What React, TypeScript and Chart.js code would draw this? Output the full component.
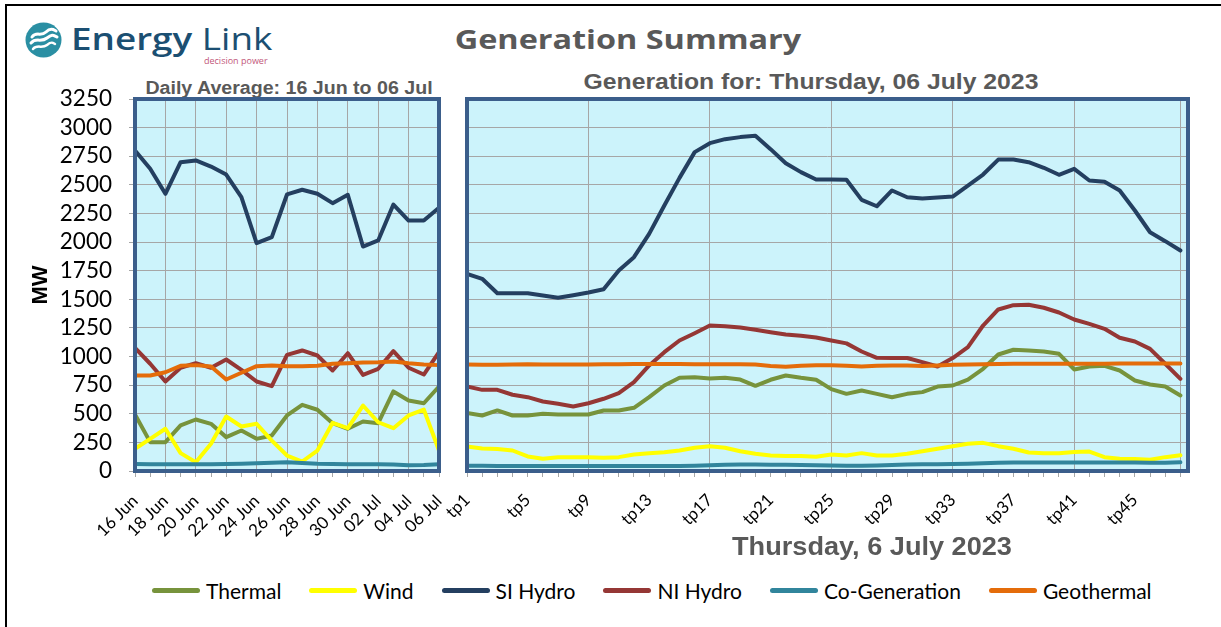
import React, { useEffect, useRef } from 'react';
import { Chart, registerables } from 'chart.js';

Chart.register(...registerables);

// ---------- data ----------
const dailyLabels = [
  '16 Jun', '17 Jun', '18 Jun', '19 Jun', '20 Jun', '21 Jun', '22 Jun', '23 Jun', '24 Jun', '25 Jun',
  '26 Jun', '27 Jun', '28 Jun', '29 Jun', '30 Jun', '01 Jul', '02 Jul', '03 Jul', '04 Jul', '05 Jul', '06 Jul',
];

const tpLabels = [
  'tp1', 'tp2', 'tp3', 'tp4', 'tp5', 'tp6', 'tp7', 'tp8', 'tp9', 'tp10', 'tp11', 'tp12',
  'tp13', 'tp14', 'tp15', 'tp16', 'tp17', 'tp18', 'tp19', 'tp20', 'tp21', 'tp22', 'tp23', 'tp24',
  'tp25', 'tp26', 'tp27', 'tp28', 'tp29', 'tp30', 'tp31', 'tp32', 'tp33', 'tp34', 'tp35', 'tp36',
  'tp37', 'tp38', 'tp39', 'tp40', 'tp41', 'tp42', 'tp43', 'tp44', 'tp45', 'tp46', 'tp47', 'tp48',
];
const tpGridLines = [1, 9, 17, 25, 33, 41, 48];

const seriesNames = ['Thermal', 'Wind', 'SI Hydro', 'NI Hydro', 'Co-Generation', 'Geothermal'];
const seriesColors = ['#77933C', '#FFFF00', '#243F60', '#953735', '#31859C', '#E46C0A'];

const yTickMax = 3250;
const yTickStep = 250;

const thermalDaily = [494, 252, 252, 398, 450, 412, 296, 354, 281, 310, 485, 578, 535, 418, 369, 432, 418, 695, 616, 592, 738];
const windDaily = [194, 281, 369, 156, 77, 238, 476, 389, 412, 266, 135, 83, 179, 421, 374, 572, 426, 374, 485, 537, 179];
const siHydroDaily = [2800, 2640, 2422, 2698, 2713, 2660, 2590, 2392, 1990, 2043, 2416, 2457, 2422, 2340, 2413, 1961, 2014, 2328, 2188, 2188, 2300];
const niHydroDaily = [1076, 937, 782, 902, 942, 902, 974, 884, 782, 741, 1015, 1053, 1009, 878, 1029, 840, 893, 1047, 902, 843, 1038];
const coGenDaily = [62, 58, 60, 60, 58, 60, 62, 64, 68, 72, 76, 70, 64, 62, 60, 60, 58, 56, 50, 52, 58];
const geothermalDaily = [835, 835, 863, 919, 925, 913, 799, 858, 916, 922, 916, 916, 919, 937, 942, 948, 951, 957, 942, 931, 925];

const thermalTp = [508, 485, 529, 485, 485, 500, 494, 494, 494, 529, 529, 552, 645, 747, 814, 820, 808, 814, 799, 744, 797, 834, 814, 797, 715, 674, 703, 674, 645, 674, 689, 738, 747, 799, 893, 1018, 1059, 1053, 1044, 1024, 887, 913, 919, 878, 791, 756, 738, 660];
const windTp = [214, 197, 193, 179, 127, 107, 121, 121, 121, 115, 121, 144, 156, 164, 179, 203, 217, 203, 173, 150, 135, 130, 130, 124, 144, 135, 156, 135, 135, 150, 173, 194, 217, 238, 246, 217, 194, 162, 156, 156, 167, 170, 121, 107, 104, 98, 121, 138];
const siHydroTp = [1723, 1679, 1553, 1553, 1553, 1533, 1513, 1536, 1560, 1588, 1752, 1868, 2072, 2320, 2561, 2786, 2864, 2899, 2917, 2929, 2812, 2689, 2611, 2547, 2547, 2545, 2369, 2313, 2451, 2392, 2381, 2389, 2398, 2494, 2590, 2721, 2721, 2698, 2649, 2588, 2640, 2538, 2527, 2451, 2276, 2086, 2008, 1926];
const niHydroTp = [738, 709, 709, 666, 645, 607, 587, 564, 592, 631, 680, 776, 922, 1038, 1140, 1204, 1271, 1265, 1254, 1234, 1213, 1193, 1181, 1166, 1140, 1115, 1044, 989, 987, 987, 951, 913, 987, 1082, 1271, 1411, 1449, 1452, 1426, 1385, 1324, 1286, 1242, 1164, 1131, 1067, 937, 805];
const coGenTp = [45, 45, 44, 44, 44, 44, 44, 44, 44, 44, 44, 44, 44, 44, 44, 46, 50, 54, 56, 56, 55, 54, 52, 50, 48, 46, 46, 48, 52, 56, 58, 60, 62, 64, 68, 72, 74, 74, 74, 74, 75, 75, 75, 74, 74, 73, 73, 76];
const geothermalTp = [930, 928, 928, 930, 932, 930, 930, 930, 930, 932, 932, 934, 934, 934, 934, 932, 932, 932, 932, 930, 918, 910, 920, 924, 924, 920, 912, 920, 922, 922, 918, 922, 928, 930, 932, 935, 936, 936, 937, 938, 938, 938, 938, 939, 939, 940, 940, 940];

const dailySeries = [thermalDaily, windDaily, siHydroDaily, niHydroDaily, coGenDaily, geothermalDaily];
const tpSeries = [thermalTp, windTp, siHydroTp, niHydroTp, coGenTp, geothermalTp];

// ---------- styles ----------
const GRID = '#A6A6A6';
const PLOT_BG = '#CCF3FB';
const FRAME = '#3B5E8B';
const CLEAR = 'rgba(0,0,0,0)';
const TITLE_GRAY = '#595959';
const TICK_FONT = 'Lato, "Open Sans", sans-serif';

const plotFrame = {
  id: 'plotFrame',
  beforeDraw(chart: any) {
    const { ctx, chartArea } = chart;
    if (!chartArea) return;
    ctx.save();
    ctx.fillStyle = PLOT_BG;
    ctx.fillRect(chartArea.left, chartArea.top, chartArea.right - chartArea.left, chartArea.bottom - chartArea.top);
    ctx.restore();
  },
  afterDraw(chart: any) {
    const { ctx, chartArea } = chart;
    if (!chartArea) return;
    ctx.save();
    ctx.strokeStyle = FRAME;
    ctx.lineWidth = 4;
    ctx.strokeRect(chartArea.left, chartArea.top, chartArea.right - chartArea.left, chartArea.bottom - chartArea.top);
    ctx.restore();
  },
};

function buildDatasets(series: number[][], asPoints: boolean) {
  return series.map((vals, i) => ({
    label: seriesNames[i],
    data: asPoints ? vals.map((v, j) => ({ x: j + 1, y: v })) : vals,
    borderColor: seriesColors[i],
    backgroundColor: seriesColors[i],
    borderWidth: 4,
    pointRadius: 0,
    pointHoverRadius: 0,
    tension: 0,
    fill: false,
    order: series.length - i,
    borderJoinStyle: 'round',
    borderCapStyle: 'round',
  }));
}

const CANVAS_H = 500;
const AREA_TOP = 39;
const AREA_BOTTOM = 411;

function leftConfig(): any {
  return {
    type: 'line',
    data: { labels: dailyLabels, datasets: buildDatasets(dailySeries, false) },
    options: {
      animation: false,
      responsive: false,
      maintainAspectRatio: false,
      events: [],
      layout: { padding: { left: 0, right: 31, top: AREA_TOP, bottom: 0 } },
      plugins: { legend: { display: false }, tooltip: { enabled: false } },
      scales: {
        x: {
          type: 'category',
          offset: false,
          border: { display: false },
          grid: {
            color: (c: any) => (c.index % 2 === 0 ? GRID : CLEAR),
            tickColor: GRID,
            tickLength: 6,
            lineWidth: 1,
          },
          ticks: {
            autoSkip: false,
            minRotation: 45,
            maxRotation: 45,
            padding: 14,
            color: '#000',
            font: { family: TICK_FONT, size: 17 },
            callback: (_v: any, i: number) => (i % 2 === 0 ? dailyLabels[i] : ''),
          },
          afterFit: (s: any) => {
            s.height = CANVAS_H - AREA_BOTTOM;
            s.paddingLeft = 0;
            s.paddingRight = 0;
          },
        },
        y: {
          min: 0,
          max: yTickMax,
          border: { display: false },
          grid: { color: GRID, tickColor: GRID, tickLength: 6 },
          ticks: {
            stepSize: yTickStep,
            autoSkip: false,
            color: '#000',
            padding: 17,
            font: { family: TICK_FONT, size: 22.5 },
            callback: (v: any) => String(v),
          },
          title: {
            display: true,
            text: 'MW',
            color: '#000',
            font: { family: '"Liberation Sans", Arial, sans-serif', size: 22, weight: 'bold' },
            padding: { top: 28, bottom: 0 },
          },
          afterFit: (s: any) => {
            s.width = 135;
          },
        },
      },
    },
    plugins: [plotFrame],
  };
}

function rightConfig(): any {
  return {
    type: 'line',
    data: { datasets: buildDatasets(tpSeries, true) },
    options: {
      animation: false,
      responsive: false,
      maintainAspectRatio: false,
      events: [],
      layout: { padding: { left: 37, right: 32, top: AREA_TOP, bottom: 0 } },
      plugins: { legend: { display: false }, tooltip: { enabled: false } },
      scales: {
        x: {
          type: 'linear',
          min: 1,
          max: 48.5,
          border: { display: false },
          afterBuildTicks: (s: any) => {
            s.ticks = tpLabels.map((_l, i) => ({ value: i + 1 }));
          },
          grid: {
            color: (c: any) => (c.tick && tpGridLines.includes(c.tick.value) ? GRID : CLEAR),
            tickColor: GRID,
            tickLength: 6,
          },
          ticks: {
            autoSkip: false,
            minRotation: 45,
            maxRotation: 45,
            padding: 13,
            color: '#000',
            font: { family: TICK_FONT, size: 17 },
            callback: (v: any) => ((Number(v) - 1) % 4 === 0 ? tpLabels[Number(v) - 1] : ''),
          },
          afterFit: (s: any) => {
            s.height = CANVAS_H - AREA_BOTTOM;
            s.paddingLeft = 0;
            s.paddingRight = 0;
          },
        },
        y: {
          min: 0,
          max: yTickMax,
          border: { display: false },
          grid: { color: GRID, drawTicks: false },
          ticks: { stepSize: yTickStep, autoSkip: false, display: false },
          afterFit: (s: any) => {
            s.width = 0;
          },
        },
      },
    },
    plugins: [plotFrame],
  };
}

function ChartCanvas({ makeConfig, left, top, width, height }: any) {
  const ref = useRef<HTMLCanvasElement>(null);
  useEffect(() => {
    const chart = new Chart(ref.current as HTMLCanvasElement, makeConfig());
    return () => chart.destroy();
  }, [makeConfig]);
  return (
    <canvas
      ref={ref}
      width={width}
      height={height}
      style={{ position: 'absolute', left, top, width, height }}
    />
  );
}

function StretchText({ text, center, top, size, family, weight, color, scale }: any) {
  return (
    <div
      style={{
        position: 'absolute',
        left: center,
        top,
        fontFamily: family,
        fontSize: size,
        fontWeight: weight,
        color,
        lineHeight: 1,
        whiteSpace: 'nowrap',
        transformOrigin: '0 0',
        transform: `scaleX(${scale}) translateX(-50%)`,
      }}
    >
      {text}
    </div>
  );
}

function Logo() {
  return (
    <>
      <svg
        width={37}
        height={36}
        viewBox="0 0 37 36"
        style={{ position: 'absolute', left: 25, top: 22 }}
      >
        <ellipse cx={18.5} cy={18} rx={18} ry={17.5} fill="#2A8FA3" />
        <path d="M7 15 C 11 9, 16 15, 21 10 S 29 8, 31 9" stroke="#fff" strokeWidth={3} fill="none" strokeLinecap="round" />
        <path d="M6 21 C 11 15, 16 21, 22 16 S 29 14, 32 15" stroke="#fff" strokeWidth={3} fill="none" strokeLinecap="round" />
        <path d="M8 27 C 12 22, 17 27, 22 23 S 28 21, 30 22" stroke="#fff" strokeWidth={2.5} fill="none" strokeLinecap="round" />
      </svg>
      <div
        style={{
          position: 'absolute',
          left: 71,
          top: 19,
          fontFamily: '"Open Sans", sans-serif',
          fontSize: 31.5,
          lineHeight: 1.2,
          color: '#1B4F72',
          whiteSpace: 'nowrap',
          transformOrigin: '0 0',
          transform: 'scaleX(1.17)',
        }}
      >
        <span style={{ fontWeight: 600 }}>Energy</span> <span style={{ fontWeight: 400 }}>Link</span>
      </div>
      <div
        style={{
          position: 'absolute',
          left: 204,
          top: 56,
          fontFamily: '"Open Sans", sans-serif',
          fontSize: 9,
          lineHeight: 1,
          color: '#C2577A',
          whiteSpace: 'nowrap',
        }}
      >
        decision power
      </div>
    </>
  );
}

function Legend() {
  return (
    <div
      style={{
        position: 'absolute',
        left: 152,
        top: 578,
        height: 24,
        display: 'flex',
        alignItems: 'center',
        gap: 28,
        fontFamily: TICK_FONT,
        fontSize: 21,
        color: '#000',
        whiteSpace: 'nowrap',
      }}
    >
      {seriesNames.map((name, i) => (
        <div key={name} style={{ display: 'flex', alignItems: 'center' }}>
          <div
            style={{
              width: 48,
              height: 5,
              borderRadius: 3,
              background: seriesColors[i],
              marginRight: 6,
            }}
          />
          <span>{name}</span>
        </div>
      ))}
    </div>
  );
}

export default function App() {
  const arial = '"Liberation Sans", Arial, sans-serif';
  return (
    <div
      style={{
        position: 'absolute',
        left: 0,
        top: 0,
        width: 1221,
        height: 627,
        overflow: 'hidden',
        background: '#fff',
      }}
    >
      <div
        style={{
          position: 'absolute',
          left: 5,
          top: 4,
          width: 1214,
          height: 621,
          borderTop: '2px solid #000',
          borderLeft: '2px solid #000',
        }}
      />
      <Logo />
      <StretchText text="Generation Summary" center={628} top={25} size={27} family='"Open Sans", sans-serif' weight={700} color={TITLE_GRAY} scale={1.2} />
      <StretchText text="Daily Average: 16 Jun to 06 Jul" center={289} top={79.5} size={17.5} family={arial} weight={700} color={TITLE_GRAY} scale={1.12} />
      <StretchText text="Generation for: Thursday, 06 July 2023" center={811} top={70.5} size={22} family={arial} weight={700} color={TITLE_GRAY} scale={1.125} />
      <ChartCanvas makeConfig={leftConfig} left={0} top={60} width={470} height={CANVAS_H} />
      <ChartCanvas makeConfig={rightConfig} left={430} top={60} width={790} height={CANVAS_H} />
      <StretchText text="Thursday, 6 July 2023" center={872} top={534} size={25} family={arial} weight={700} color={TITLE_GRAY} scale={1.085} />
      <Legend />
    </div>
  );
}
